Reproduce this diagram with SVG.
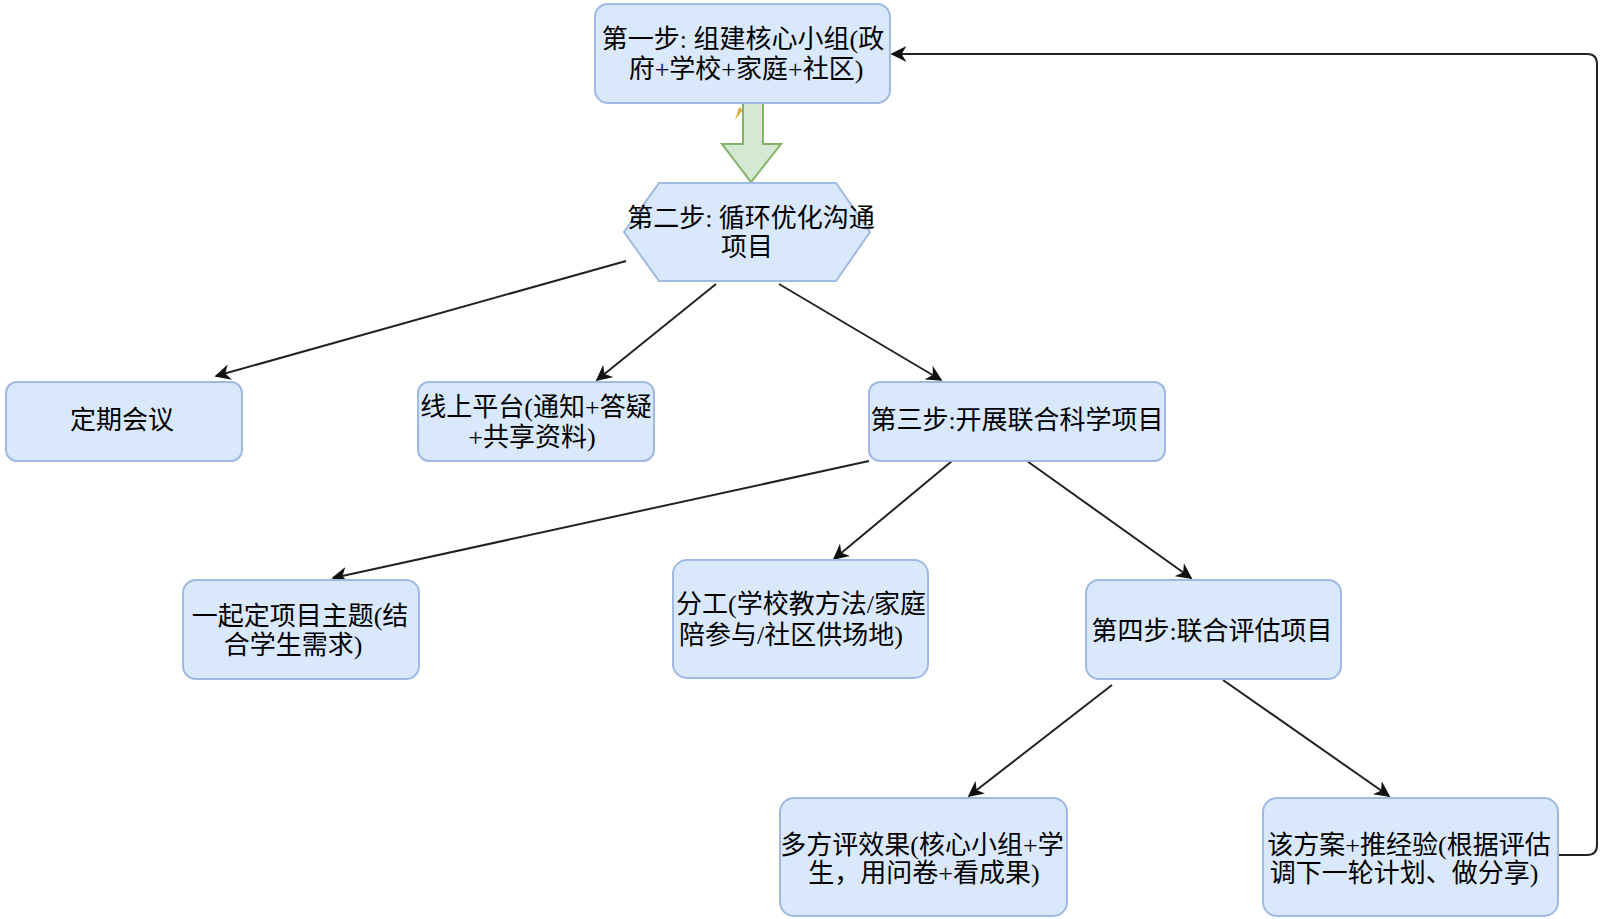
<svg xmlns="http://www.w3.org/2000/svg" width="1600" height="919" viewBox="0 0 1600 919">
<style>
.n{fill:#dae8fc;stroke:#9fb9e2;stroke-width:2}
.t{font-family:"Liberation Serif","Noto Sans CJK SC",serif;font-size:26px;fill:#000;text-anchor:middle}
.c{fill:none;stroke:#222;stroke-width:2}
</style>
<defs>
<marker id="ah" viewBox="0 0 10 10" refX="9" refY="5" markerWidth="16" markerHeight="16" orient="auto" markerUnits="userSpaceOnUse">
<path d="M0,0 L10,5 L0,10 L3,5 z" fill="#111"/>
</marker>
</defs>
<rect width="1600" height="919" fill="#fff"/>
<g id="connectors">
<path class="c" d="M626,261 L216,376" marker-end="url(#ah)"/>
<path class="c" d="M716,284 L597,380" marker-end="url(#ah)"/>
<path class="c" d="M779,284 L941,380" marker-end="url(#ah)"/>
<path class="c" d="M869,461 L333,578" marker-end="url(#ah)"/>
<path class="c" d="M952,461 L834,559" marker-end="url(#ah)"/>
<path class="c" d="M1027,461 L1191,578" marker-end="url(#ah)"/>
<path class="c" d="M1112,685 L969,796" marker-end="url(#ah)"/>
<path class="c" d="M1223,680 L1389,796" marker-end="url(#ah)"/>
<path class="c" d="M1558,855 L1587,855 Q1597,855 1597,845 L1597,64 Q1597,54 1587,54 L892,54" marker-end="url(#ah)"/>
<path d="M735,120 L739,107 L743,110 Z" fill="#e0b050"/>
<path d="M743,103 L763,103 L763,144 L781,144 L751,182 L722,144 L743,144 Z" fill="#d5e8d4" stroke="#82b366" stroke-width="2"/>
</g>
<g id="n1">
<rect class="n" x="595" y="4" width="295" height="99" rx="13"/>
<text class="t" x="743" y="48">第一步: 组建核心小组(政</text>
<text class="t" x="746" y="78">府+学校+家庭+社区)</text>
</g>
<g id="n2">
<polygon class="n" points="659,183 836,183 870,232 836,281 659,281 624,232"/>
<text class="t" x="751" y="227">第二步: 循环优化沟通</text>
<text class="t" x="747" y="256">项目</text>
</g>
<g id="n3">
<rect class="n" x="6" y="382" width="236" height="79" rx="11"/>
<text class="t" x="122" y="429">定期会议</text>
</g>
<g id="n4">
<rect class="n" x="418" y="382" width="236" height="79" rx="11"/>
<text class="t" x="536" y="416">线上平台(通知+答疑</text>
<text class="t" x="532" y="446">+共享资料)</text>
</g>
<g id="n5">
<rect class="n" x="869" y="382" width="296" height="79" rx="11"/>
<text class="t" x="1017" y="429">第三步:开展联合科学项目</text>
</g>
<g id="n6">
<rect class="n" x="183" y="580" width="236" height="99" rx="13"/>
<text class="t" x="300" y="625">一起定项目主题(结</text>
<text class="t" x="293" y="654">合学生需求)</text>
</g>
<g id="n7">
<rect class="n" x="673" y="560" width="255" height="118" rx="14"/>
<text class="t" x="801" y="613">分工(学校教方法/家庭</text>
<text class="t" x="791" y="644">陪参与/社区供场地)</text>
</g>
<g id="n8">
<rect class="n" x="1086" y="580" width="255" height="99" rx="13"/>
<text class="t" x="1212" y="640">第四步:联合评估项目</text>
</g>
<g id="n9">
<rect class="n" x="780" y="798" width="287" height="118" rx="14"/>
<text class="t" x="922" y="854">多方评效果(核心小组+学</text>
<text class="t" x="924" y="882">生，用问卷+看成果)</text>
</g>
<g id="n10">
<rect class="n" x="1263" y="798" width="295" height="118" rx="14"/>
<text class="t" x="1409" y="854">该方案+推经验(根据评估</text>
<text class="t" x="1404" y="882">调下一轮计划、做分享)</text>
</g>
</svg>
